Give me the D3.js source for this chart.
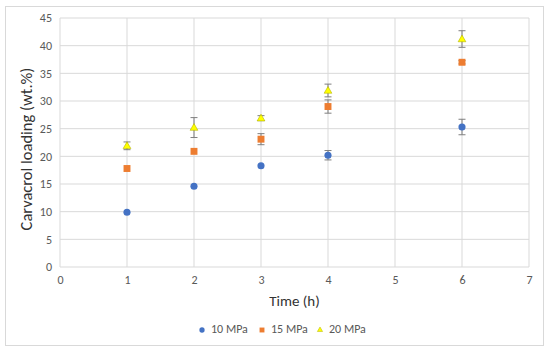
<!DOCTYPE html>
<html>
<head>
<meta charset="utf-8">
<script src="https://cdn.jsdelivr.net/npm/d3@7"></script>
<style>
  body { margin: 0; background: #fff; }
  text { font-family: Carlito, "Open Sans", sans-serif; }
</style>
</head>
<body>
<svg width="550" height="354"></svg>
<script>
// data
const times = [1, 2, 3, 4, 6];
const series = ['10 MPa', '15 MPa', '20 MPa'];
const load10 = [9.9, 14.6, 18.3, 20.2, 25.3];
const err10 = [0, 0, 0, 0.85, 1.4];
const load15 = [17.8, 20.9, 23.1, 29.0, 37.0];
const err15 = [0, 0, 1.0, 1.2, 0.3];
const load20 = [21.9, 25.2, 26.9, 31.9, 41.2];
const err20 = [0.7, 1.8, 0.45, 1.15, 1.5];
const xTicks = [0, 1, 2, 3, 4, 5, 6, 7];
const yTicks = [0, 5, 10, 15, 20, 25, 30, 35, 40, 45];

const colors = ['#4472C4', '#ED7D31', '#FFFF00'];
const shapes = [d3.symbolCircle, d3.symbolSquare, d3.symbolTriangle];

const svg = d3.select('svg');
const margin = {left: 60, right: 21, top: 18, bottom: 87};
const W = 550, H = 354;

// chart border
svg.append('rect')
    .attr('x', 5.5).attr('y', 6.5)
    .attr('width', 538).attr('height', 339)
    .attr('fill', 'none')
    .attr('stroke', '#d9d9d9');

const x = d3.scaleLinear().domain([0, 7]).range([margin.left, W - margin.right]);
const y = d3.scaleLinear().domain([0, 45]).range([H - margin.bottom, margin.top]);

// gridlines
const grid = svg.append('g');
grid.selectAll('.hg').data(yTicks).enter().append('line')
    .attr('x1', x(0)).attr('x2', x(7))
    .attr('y1', d => y(d)).attr('y2', d => y(d))
    .attr('stroke', '#d9d9d9').attr('stroke-width', 1);
grid.selectAll('.vg').data(xTicks).enter().append('line')
    .attr('y1', y(0)).attr('y2', y(45))
    .attr('x1', d => x(d)).attr('x2', d => x(d))
    .attr('stroke', '#d9d9d9').attr('stroke-width', 1);

// axes
const xAxis = svg.append('g')
    .attr('transform', `translate(0,${y(0)})`)
    .call(d3.axisBottom(x).tickValues(xTicks).tickFormat(d3.format('d')).tickSize(0).tickPadding(8));
const yAxis = svg.append('g')
    .attr('transform', `translate(${x(0)},0)`)
    .call(d3.axisLeft(y).tickValues(yTicks).tickFormat(d3.format('d')).tickSize(0).tickPadding(8));
[xAxis, yAxis].forEach(a => {
    a.select('.domain').remove();
    a.selectAll('text').attr('fill', '#595959').style('font-size', '12px');
});

// axis titles
svg.append('text')
    .attr('x', (x(0) + x(7)) / 2).attr('y', 306)
    .attr('text-anchor', 'middle')
    .attr('fill', '#333').style('font-size', '15px')
    .text('Time (h)');
svg.append('text')
    .attr('transform', `translate(32,149) rotate(-90)`)
    .attr('text-anchor', 'middle')
    .attr('fill', '#333').style('font-size', '16.5px')
    .text('Carvacrol loading (wt.%)');

// points with error bars
const allLoads = [load10, load15, load20];
const allErrs = [err10, err15, err20];
const sizes = [40, 48, 26];

allLoads.forEach((vals, s) => {
    const rows = times.map((t, i) => ({t, v: vals[i], e: allErrs[s][i]}));
    const g = svg.append('g');
    const eb = g.selectAll('.eb').data(rows.filter(d => d.e > 0)).enter().append('g')
        .attr('stroke', '#7f7f7f').attr('stroke-width', 1);
    eb.append('line')
        .attr('x1', d => x(d.t)).attr('x2', d => x(d.t))
        .attr('y1', d => y(d.v - d.e)).attr('y2', d => y(d.v + d.e));
    eb.append('line')
        .attr('x1', d => x(d.t) - 3.5).attr('x2', d => x(d.t) + 3.5)
        .attr('y1', d => y(d.v + d.e)).attr('y2', d => y(d.v + d.e));
    eb.append('line')
        .attr('x1', d => x(d.t) - 3.5).attr('x2', d => x(d.t) + 3.5)
        .attr('y1', d => y(d.v - d.e)).attr('y2', d => y(d.v - d.e));
    g.selectAll('path.pt').data(rows).enter().append('path')
        .attr('class', 'pt')
        .attr('transform', d => `translate(${x(d.t)},${y(d.v) + (s === 2 ? 0.5 : 0)})`)
        .attr('d', d3.symbol().type(shapes[s]).size(sizes[s]))
        .attr('fill', colors[s])
        .attr('stroke', s === 2 ? '#b5b500' : 'none')
        .attr('stroke-width', 0.6);
});

// legend
const legendX = [202, 262, 320];
const legendSizes = [22, 24, 12];
const legend = svg.append('g');
series.forEach((name, i) => {
    legend.append('path')
        .attr('transform', `translate(${legendX[i]},330)`)
        .attr('d', d3.symbol().type(shapes[i]).size(legendSizes[i]))
        .attr('fill', colors[i])
        .attr('stroke', i === 2 ? '#b5b500' : 'none')
        .attr('stroke-width', 0.5);
    legend.append('text')
        .attr('x', legendX[i] + 9).attr('y', 333)
        .attr('fill', '#595959').style('font-size', '12px')
        .text(name);
});
</script>
</body>
</html>
